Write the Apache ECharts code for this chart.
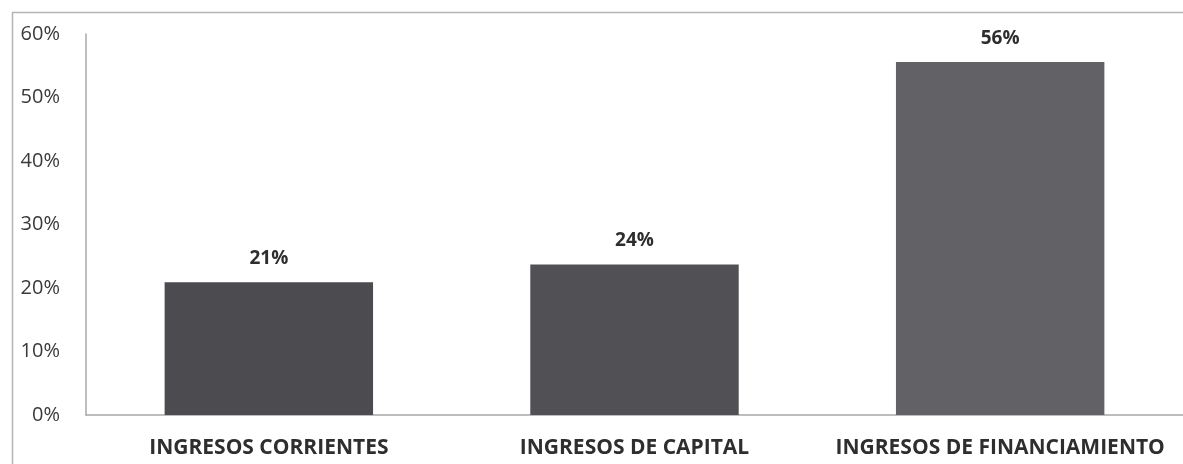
<!DOCTYPE html>
<html><head><meta charset="utf-8">
<script src="https://cdn.jsdelivr.net/npm/echarts@6/dist/echarts.min.js"></script>
<style>html,body{margin:0;padding:0;background:#fff}#c{width:1183px;height:464px}</style>
</head><body><div id="c"></div>
<script>
const categories = ['INGRESOS CORRIENTES', 'INGRESOS DE CAPITAL', 'INGRESOS DE FINANCIAMIENTO'];
const values = [20.9, 23.7, 55.6];
const barColors = ['#4b4b50', '#505055', '#616166'];
const yTicks = [0, 10, 20, 30, 40, 50, 60];

const chart = echarts.init(document.getElementById('c'));
chart.setOption({
  animation: false,
  backgroundColor: '#fff',
  graphic: [{
    type: 'rect', left: 10, top: 10,
    shape: { width: 1200, height: 480 },
    style: { fill: 'none', stroke: '#b5b5b5', lineWidth: 1.5 }
  }],
  grid: { left: 86, right: 0, top: 34, bottom: 49, containLabel: false },
  xAxis: {
    type: 'category', data: categories,
    axisLine: { show: true, lineStyle: { color: '#a8a8a8', width: 1.5 } },
    axisTick: { show: false },
    axisLabel: { interval: 0, hideOverlap: false, color: '#2e2e2e', fontFamily: 'Open Sans', fontWeight: 'bold', fontSize: 21, margin: 23 }
  },
  yAxis: {
    type: 'value', min: 0, max: 60, interval: 10,
    axisLine: { show: true, lineStyle: { color: '#a8a8a8', width: 1.5 } },
    axisTick: { show: false },
    splitLine: { show: false },
    axisLabel: { color: '#3a3a3a', fontFamily: 'Open Sans', fontSize: 20, margin: 26, align: 'right',
      formatter: v => yTicks.includes(v) ? v + '%' : '' }
  },
  series: [{
    type: 'bar', barWidth: '57%',
    data: values.map((v, i) => ({ value: v, itemStyle: { color: barColors[i] } })),
    label: { show: true, position: 'top', distance: 14, color: '#2e2e2e', fontFamily: 'Open Sans',
      fontWeight: 'bold', fontSize: 19, formatter: p => Math.round(p.value) + '%' }
  }]
});
</script></body></html>
